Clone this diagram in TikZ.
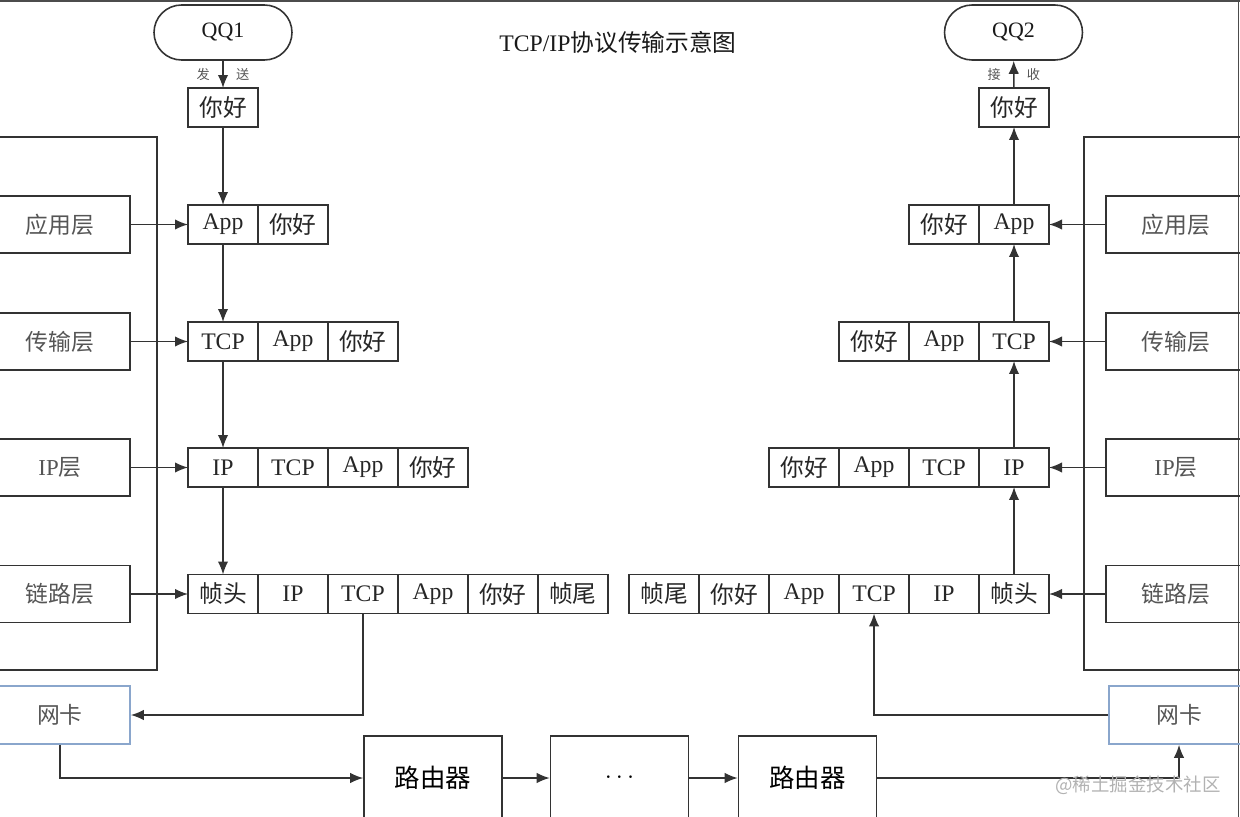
\documentclass[tikz,border=0pt]{standalone}
\usepackage{fontspec}
\setmainfont{Liberation Serif}
\newfontfamily\cjk{Noto Sans CJK SC}
\usetikzlibrary{positioning,arrows.meta}
\newcommand{\cn}[1]{{\cjk #1}}
\definecolor{linegray}{HTML}{333333}
\definecolor{nicblue}{HTML}{8AA6CC}
\definecolor{laytext}{HTML}{555555}

\tikzset{
  cell/.style={draw, minimum width=1.4cm, minimum height=0.78cm, inner sep=0pt, outer sep=0pt, font=\fontsize{13.5}{15}\selectfont, text=black!85},
  layer/.style={draw, minimum width=2.8cm, minimum height=1.14cm, font=\fontsize{13}{15}\selectfont, text=laytext},
  nic/.style={layer, draw=nicblue, minimum height=1.16cm},
  router/.style={draw, minimum width=2.76cm, minimum height=1.68cm, font=\fontsize{14.5}{16}\selectfont, text=black},
  qq/.style={draw, rounded corners=0.55cm, minimum width=2.76cm, minimum height=1.1cm, font=\fontsize{12.5}{14}\selectfont, text=black!90},
  tag/.style={font=\fontsize{7.5}{9}\selectfont, text=laytext, inner sep=1pt},
  every edge/.append style={line width=0.9pt}
}

\begin{document}
\begin{tikzpicture}[x=0.02cm, y=-0.02cm, node distance=1.4cm, on grid, >={Latex[length=2.6mm,width=2.1mm]}, line width=0.9pt, color=linegray]

  \clip (0,0) rectangle (1240,817);

  % Outer frame and title
  \draw[black!70, line width=1.2pt] (0,1) -- (1240,1);
  \draw[black!70] (1238.5,0) -- (1238.5,817);
  \node[font=\fontsize{13.5}{15}\selectfont, text=black!90] (title) at (618,42) {TCP/IP\cn{协议传输示意图}};

  % Sender side
  \node[qq] (qq1) at (223,32.5) {QQ1};
  \node[cell] (s0) at (223,107.5) {\cn{你好}};

  \node[cell] (a1) at (223,224.5) {App};
  \node[cell] (a2) [right=of a1] {\cn{你好}};

  \node[cell] (t1) at (223,341.5) {TCP};
  \node[cell] (t2) [right=of t1] {App};
  \node[cell] (t3) [right=of t2] {\cn{你好}};

  \node[cell] (i1) at (223,467.5) {IP};
  \node[cell] (i2) [right=of i1] {TCP};
  \node[cell] (i3) [right=of i2] {App};
  \node[cell] (i4) [right=of i3] {\cn{你好}};

  \node[cell] (l1) at (223,594) {\cn{帧头}};
  \node[cell] (l2) [right=of l1] {IP};
  \node[cell] (l3) [right=of l2] {TCP};
  \node[cell] (l4) [right=of l3] {App};
  \node[cell] (l5) [right=of l4] {\cn{你好}};
  \node[cell] (l6) [right=of l5] {\cn{帧尾}};

  % Sender layers
  \draw (-10,137) rectangle (157,670);
  \node[layer] (lapp) at (60,224.5) {\cn{应用层}};
  \node[layer] (ltcp) at (60,341.5) {\cn{传输层}};
  \node[layer] (lip)  at (60,467.5) {IP\cn{层}};
  \node[layer] (llnk) at (60,594) {\cn{链路层}};
  \node[nic] (nicL) at (60,715) {\cn{网卡}};

  \path[->]
    (qq1) edge node[tag, left=6pt] {\cn{发}} node[tag, right=6pt] {\cn{送}} (s0)
    (s0) edge (a1)
    (a1) edge (t1)
    (t1) edge (i1)
    (i1) edge (l1)
    (lapp) edge (a1)
    (ltcp) edge (t1)
    (lip) edge (i1)
    (llnk) edge (l1);

  % Receiver side
  \node[qq] (qq2) at (1013.5,32.5) {QQ2};
  \node[cell] (r0) at (1014,107.5) {\cn{你好}};

  \node[cell] (ra1) at (1014,224.5) {App};
  \node[cell] (ra2) [left=of ra1] {\cn{你好}};

  \node[cell] (rt1) at (1014,341.5) {TCP};
  \node[cell] (rt2) [left=of rt1] {App};
  \node[cell] (rt3) [left=of rt2] {\cn{你好}};

  \node[cell] (ri1) at (1014,467.5) {IP};
  \node[cell] (ri2) [left=of ri1] {TCP};
  \node[cell] (ri3) [left=of ri2] {App};
  \node[cell] (ri4) [left=of ri3] {\cn{你好}};

  \node[cell] (rl1) at (1014,594) {\cn{帧头}};
  \node[cell] (rl2) [left=of rl1] {IP};
  \node[cell] (rl3) [left=of rl2] {TCP};
  \node[cell] (rl4) [left=of rl3] {App};
  \node[cell] (rl5) [left=of rl4] {\cn{你好}};
  \node[cell] (rl6) [left=of rl5] {\cn{帧尾}};

  % Receiver layers
  \draw (1084,137) rectangle (1260,670);
  \node[layer] (rapp) at (1176,224.5) {\cn{应用层}};
  \node[layer] (rtcp) at (1176,341.5) {\cn{传输层}};
  \node[layer] (rip)  at (1176,467.5) {IP\cn{层}};
  \node[layer] (rlnk) at (1176,594) {\cn{链路层}};
  \node[nic] (nicR) at (1179,715) {\cn{网卡}};

  \path[->]
    (r0) edge node[tag, left=6pt] {\cn{接}} node[tag, right=6pt] {\cn{收}} (qq2)
    (ra1) edge (r0)
    (rt1) edge (ra1)
    (ri1) edge (rt1)
    (rl1) edge (ri1)
    (rapp) edge (ra1)
    (rtcp) edge (rt1)
    (rip) edge (ri1)
    (rlnk) edge (rl1);

  % Routers
  \node[router] (rt1x) at (433,778) {\cn{路由器}};
  \node[router] (dots) at (619.5,778) {$\cdots$};
  \node[router] (rt2x) at (807.5,778) {\cn{路由器}};

  \draw[->] (l3.south) |- (nicL);
  \draw[->] (nicL.south) |- (rt1x);
  \path[->]
    (rt1x) edge (dots)
    (dots) edge (rt2x);
  \draw[->] (rt2x) -| (nicR);
  \draw[->] (nicR) -| (rl3.south);

  % Watermark
  \node[text=black!30, font=\fontsize{10.5}{12}\selectfont] (mark) at (1138,785) {\cn{@稀土掘金技术社区}};

\end{tikzpicture}
\end{document}
